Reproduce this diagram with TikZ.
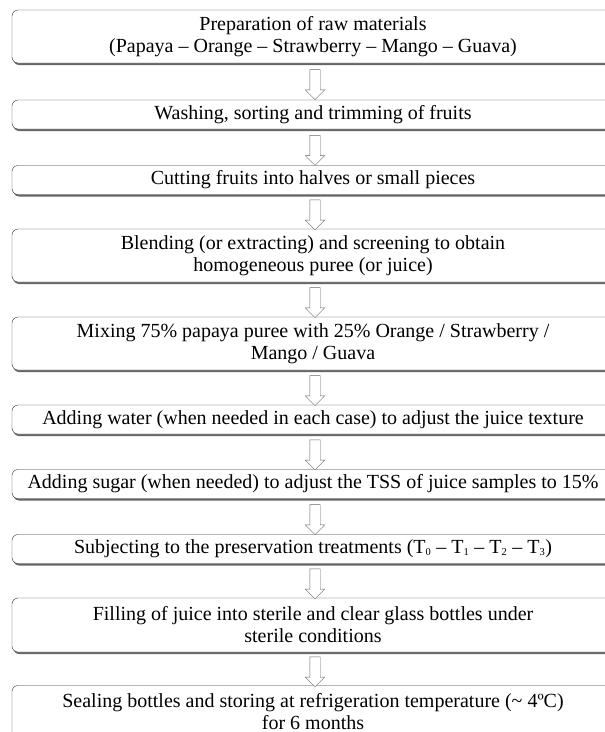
\documentclass[tikz,border=0pt]{standalone}
\usepackage{fontspec}
\setmainfont{Liberation Serif}
\usetikzlibrary{shapes.arrows,shadows}

\begin{document}
\begin{tikzpicture}[x=1pt,y=1pt,
  stepbox/.style={draw=black!80,rounded corners=6pt,fill=white,minimum width=602pt,align=center,inner sep=0pt,
    font=\fontsize{20}{22}\selectfont,drop shadow={shadow xshift=1.2pt,shadow yshift=-2pt,fill=black!60,opacity=1}},
  flowarr/.style={single arrow,draw=black!60,fill=white,shape border rotate=270,minimum height=30pt,minimum width=19pt,single arrow head extend=4.5pt,inner sep=5pt}]
\useasboundingbox (0,0) rectangle (605,-732);
\clip (0,0) rectangle (605,-732);
\node[stepbox,minimum height=53pt] (prep) at (313,-36.5) {Preparation of raw materials\\(Papaya -- Orange -- Strawberry -- Mango -- Guava)};
\node[stepbox,minimum height=29pt] (wash) at (313,-114.5) {Washing, sorting and trimming of fruits};
\node[stepbox,minimum height=29pt] (cut) at (313,-180) {Cutting fruits into halves or small pieces};
\node[stepbox,minimum height=53pt] (blend) at (313,-255.5) {Blending (or extracting) and screening to obtain\\homogeneous puree (or juice)};
\node[stepbox,minimum height=53pt] (mix) at (313,-343.5) {Mixing 75\% papaya puree with 25\% Orange / Strawberry /\\Mango / Guava};
\node[stepbox,minimum height=29pt] (water) at (313,-419.5) {Adding water (when needed in each case) to adjust the juice texture};
\node[stepbox,minimum height=29pt] (sugar) at (313,-484) {Adding sugar (when needed) to adjust the TSS of juice samples to 15\%};
\node[stepbox,minimum height=29pt] (treat) at (313,-549) {Subjecting to the preservation treatments (T{\fontsize{15}{15}\selectfont\textsubscript{0}} -- T{\fontsize{15}{15}\selectfont\textsubscript{1}} -- T{\fontsize{15}{15}\selectfont\textsubscript{2}} -- T{\fontsize{15}{15}\selectfont\textsubscript{3}})};
\node[stepbox,minimum height=54pt] (fill) at (313,-625) {Filling of juice into sterile and clear glass bottles under\\sterile conditions};
\node[stepbox,minimum height=53pt] (seal) at (313,-712) {Sealing bottles and storing at refrigeration temperature (\textasciitilde{} 4ºC)\\for 6 months};
\foreach \a/\b in {prep/wash,wash/cut,cut/blend,blend/mix,mix/water,water/sugar,sugar/treat,treat/fill,fill/seal}
  \path (\a.south) -- (\b.north) node[flowarr,midway,xshift=2pt,yshift=-0.5pt] {};
\end{tikzpicture}
\end{document}
